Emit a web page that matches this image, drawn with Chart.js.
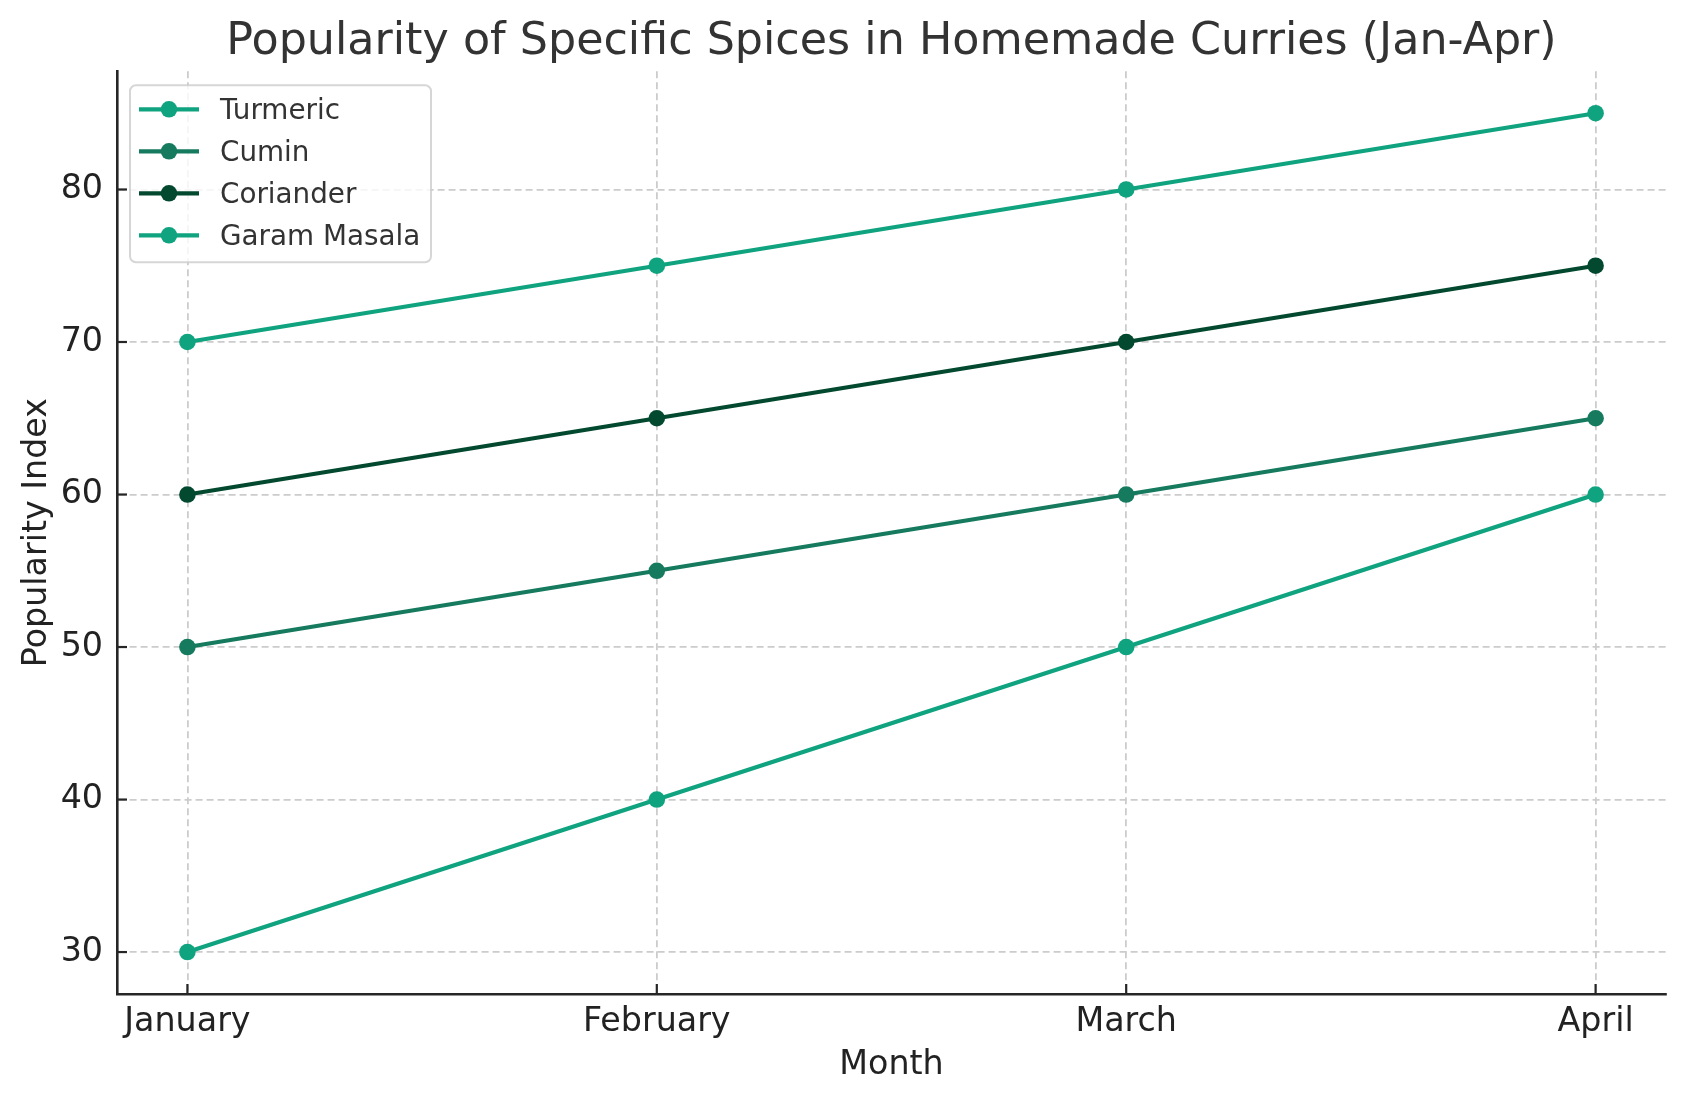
<!DOCTYPE html>
<html>
<head>
<meta charset="utf-8">
<script src="https://cdn.jsdelivr.net/npm/chart.js@4.4.0/dist/chart.umd.min.js"></script>
<style>
html,body{margin:0;padding:0;background:#ffffff;}
#wrap{width:1686px;height:1101px;position:relative;}
</style>
</head>
<body>
<div id="wrap"><canvas id="c"></canvas></div>
<script>
// ---- data ----
const months = ['January', 'February', 'March', 'April'];
const turmeric = [30, 40, 50, 60];
const cumin = [50, 55, 60, 65];
const coriander = [60, 65, 70, 75];
const garamMasala = [70, 75, 80, 85];
const yTickValues = [30, 40, 50, 60, 70, 80];
const seriesNames = ['Turmeric', 'Cumin', 'Coriander', 'Garam Masala'];
const seriesValues = [turmeric, cumin, coriander, garamMasala];

// ---- styles ----
const palette = ['#10a37f', '#167a5e', '#03492f', '#10a37f'];
const FONT = "'DejaVu Sans', sans-serif";

const datasets = seriesNames.map((name, k) => ({
  label: name,
  data: seriesValues[k].map((v, i) => ({x: i, y: v})),
  borderColor: palette[k],
  backgroundColor: palette[k],
  pointBackgroundColor: palette[k],
  pointBorderWidth: 0,
  pointRadius: 8.3,
  pointHoverRadius: 8.3,
  borderWidth: 4.2,
  tension: 0,
  fill: false,
  order: seriesNames.length - k
}));

const inwardTicks = {
  id: 'inwardTicks',
  afterDraw(chart) {
    const {ctx, chartArea: a, scales: {x, y}} = chart;
    ctx.save();
    ctx.strokeStyle = '#262626';
    ctx.lineWidth = 2.2;
    x.ticks.forEach(t => {
      const px = x.getPixelForValue(t.value);
      ctx.beginPath(); ctx.moveTo(px, a.bottom); ctx.lineTo(px, a.bottom - 10); ctx.stroke();
    });
    y.ticks.forEach(t => {
      const py = y.getPixelForValue(t.value);
      ctx.beginPath(); ctx.moveTo(a.left, py); ctx.lineTo(a.left + 10, py); ctx.stroke();
    });
    ctx.restore();
  }
};

const innerLegend = {
  id: 'innerLegend',
  afterDatasetsDraw(chart) {
    const {ctx, chartArea: a} = chart;
    const ds = chart.data.datasets;
    const x0 = a.left + 13, y0 = a.top + 14;
    const w = 301, rowH = 42, h = 177;
    ctx.save();
    ctx.beginPath();
    ctx.roundRect(x0, y0, w, h, 6);
    ctx.fillStyle = 'rgba(255,255,255,0.8)';
    ctx.fill();
    ctx.lineWidth = 2;
    ctx.strokeStyle = 'rgba(204,204,204,0.8)';
    ctx.stroke();
    ds.forEach((d, i) => {
      const cy = y0 + 24 + i * rowH;
      ctx.strokeStyle = d.borderColor;
      ctx.lineWidth = 4.2;
      ctx.beginPath(); ctx.moveTo(x0 + 9, cy); ctx.lineTo(x0 + 69, cy); ctx.stroke();
      ctx.fillStyle = d.borderColor;
      ctx.beginPath(); ctx.arc(x0 + 39, cy, 8.3, 0, Math.PI * 2); ctx.fill();
      ctx.fillStyle = '#333333';
      ctx.font = "27.8px " + FONT;
      ctx.textBaseline = 'middle';
      ctx.textAlign = 'left';
      ctx.fillText(d.label, x0 + 90, cy + 2);
    });
    ctx.restore();
  }
};

new Chart(document.getElementById('c'), {
  type: 'line',
  data: {datasets},
  plugins: [inwardTicks, innerLegend],
  options: {
    responsive: true,
    maintainAspectRatio: false,
    animation: false,
    devicePixelRatio: 1,
    layout: {padding: {left: 0, right: 20, top: 0, bottom: 0}},
    plugins: {
      legend: {display: false},
      tooltip: {enabled: false},
      title: {
        display: true,
        text: 'Popularity of Specific Spices in Homemade Curries (Jan-Apr)',
        color: '#333333',
        font: {family: FONT, size: 44.4, weight: 'normal'},
        padding: {top: 16, bottom: 2},
        fullSize: false
      }
    },
    scales: {
      x: {
        type: 'linear',
        min: -0.15,
        max: 3.15,
        afterBuildTicks(scale) { scale.ticks = months.map((m, i) => ({value: i})); },
        afterFit(scale) { scale.height = 107; },
        ticks: {
          callback: (v) => months[v],
          color: '#222222',
          font: {family: FONT, size: 33.3},
          padding: 8,
          maxRotation: 0,
          autoSkip: false
        },
        grid: {color: '#cccccc', lineWidth: 1.8, drawTicks: false, borderDash: [7, 4]},
        border: {display: true, color: '#262626', width: 2.6, dash: [7, 4]},
        title: {
          display: true, text: 'Month', color: '#222222',
          font: {family: FONT, size: 33.3},
          padding: {top: 0, bottom: 16}
        }
      },
      y: {
        type: 'linear',
        min: 27.25,
        max: 87.75,
        afterBuildTicks(scale) { scale.ticks = yTickValues.map(v => ({value: v})); },
        afterFit(scale) { scale.width = 117; },
        ticks: {
          color: '#222222',
          font: {family: FONT, size: 33.3},
          padding: 14
        },
        grid: {color: '#cccccc', lineWidth: 1.8, drawTicks: false, borderDash: [7, 4]},
        border: {display: true, color: '#262626', width: 2.6, dash: [7, 4]},
        title: {
          display: true, text: 'Popularity Index', color: '#222222',
          font: {family: FONT, size: 33.3},
          padding: {top: 17, bottom: 0}
        }
      }
    }
  }
});
</script>
</body>
</html>
